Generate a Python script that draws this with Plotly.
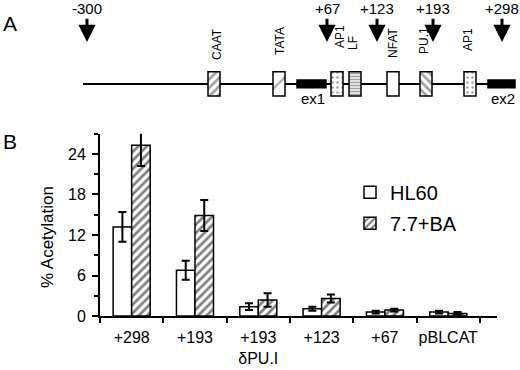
import plotly.graph_objects as go

# ---------------- Panel B data ----------------
categories = ["+298", "+193", "+193 δPU.I", "+123", "+67", "pBLCAT"]
tick_labels = ["+298", "+193", "+193<br>δPU.I", "+123", "+67", "pBLCAT"]
hl60 = [13.2, 6.8, 1.4, 1.1, 0.6, 0.6]
hl60_err = [2.2, 1.4, 0.5, 0.3, 0.2, 0.2]
ba = [25.3, 14.9, 2.4, 2.6, 0.9, 0.4]
ba_err = [3.1, 2.3, 1.0, 0.6, 0.2, 0.2]
y_ticks = [0, 6, 12, 18, 24]

# ---------------- Panel A data (schematic map units) ----------------
elements = ["CAAT", "TATA", "ex1", "AP1", "LF", "NFAT", "PU.1", "AP1", "ex2"]
elem_start = [208, 273, 297, 331, 349, 387, 420, 464, 488]
elem_end = [220, 285, 326, 343, 361, 399, 432, 476, 515]
elem_pattern = ["/", "/", "", ".", "-", "", "\\", ".", ""]
elem_fill = ["white", "white", "black", "white", "white", "white", "white", "white", "black"]
elem_height = [25, 25, 8, 25, 25, 25, 25, 25, 8]
elem_psize = [6, 16, 6, 5, 3, 6, 6, 5, 6]
elem_solid = [0.45, 0.12, 0.3, 0.2, 0.55, 0.3, 0.45, 0.2, 0.3]
site_labels = ["-300", "+67", "+123", "+193", "+298"]
site_pos = [87, 327, 377, 433, 502]
box_labels = ["CAAT", "TATA", "AP1", "LF", "NFAT", "PU.1", "AP1"]
box_label_x = [217, 280, 340, 353, 393, 424, 468]
box_label_y = [45, 42, 38, 44, 44, 42, 41]
exon_labels = ["ex1", "ex2"]
exon_label_x = [313, 503]

FONT = "Liberation Sans, Arial, sans-serif"
W, H = 520, 370

fig = go.Figure()

# Panel B bars
fig.add_trace(go.Bar(
    name="HL60", x=categories, y=hl60,
    marker=dict(color="white", line=dict(color="black", width=1.5)),
    error_y=dict(type="data", array=hl60_err, color="black", thickness=2, width=4),
    cliponaxis=False, legendgroup="a",
))
fig.add_trace(go.Bar(
    name="7.7+BA", x=categories, y=ba,
    marker=dict(color="white", line=dict(color="black", width=1.5),
                pattern=dict(shape="/", fgcolor="black", bgcolor="white", size=6, solidity=0.45)),
    error_y=dict(type="data", array=ba_err, color="black", thickness=2, width=4),
    cliponaxis=False, legendgroup="b",
))

# Panel A boxes
fig.add_trace(go.Bar(
    orientation="h", y=[86] * len(elements),
    x=[e - s for s, e in zip(elem_start, elem_end)], base=elem_start,
    width=elem_height,
    marker=dict(color=elem_fill, line=dict(color="black", width=1.5),
                pattern=dict(shape=elem_pattern, fgcolor="black", bgcolor=elem_fill,
                             size=elem_psize, solidity=elem_solid)),
    xaxis="x2", yaxis="y2", showlegend=False, hoverinfo="skip",
))

# baseline of the map
fig.add_shape(type="line", xref="x2", yref="y2", x0=83, x1=500, y0=86, y1=86,
              line=dict(color="black", width=2), layer="below")

ann = []
for lab, xp in zip(site_labels, site_pos):
    ann.append(dict(xref="x2", yref="y2", axref="x2", ayref="y2",
                    x=xp, y=43, ax=xp, ay=9, text=lab, showarrow=True,
                    arrowhead=2, arrowwidth=3, arrowsize=1.15, arrowcolor="black",
                    font=dict(size=15, family=FONT, color="black")))
for lab, xp, yp in zip(box_labels, box_label_x, box_label_y):
    ann.append(dict(xref="x2", yref="y2", x=xp, y=yp, text=lab, showarrow=False,
                    textangle=-90, font=dict(size=12, family=FONT, color="black")))
for lab, xp in zip(exon_labels, exon_label_x):
    ann.append(dict(xref="x2", yref="y2", x=xp, y=101, text=lab, showarrow=False,
                    font=dict(size=15, family=FONT, color="black")))
ann.append(dict(xref="paper", yref="paper", x=10 / W, y=1 - 24 / H, text="A", showarrow=False,
                xanchor="center", yanchor="middle",
                font=dict(size=21, family=FONT, color="black")))
ann.append(dict(xref="paper", yref="paper", x=10 / W, y=1 - 145 / H, text="B", showarrow=False,
                xanchor="center", yanchor="middle",
                font=dict(size=21, family=FONT, color="black")))
ann.append(dict(xref="paper", yref="paper", x=47 / W, y=1 - 243 / H, text="% Acetylation",
                xanchor="center", yanchor="middle",
                showarrow=False, textangle=-90, font=dict(size=17, family=FONT, color="black")))

fig.update_layout(
    width=W, height=H, margin=dict(l=0, r=0, t=0, b=0),
    paper_bgcolor="white", plot_bgcolor="white",
    font=dict(family=FONT, color="black"),
    barmode="group", bargap=0.415, bargroupgap=0,
    showlegend=True,
    legend=dict(x=350 / W, y=1 - 177 / H, xanchor="left", yanchor="top",
                font=dict(size=20, family=FONT, color="black"),
                bgcolor="rgba(0,0,0,0)", tracegroupgap=2),
    xaxis=dict(domain=[100 / W, 497 / W], anchor="y", type="category",
               range=[-0.5, 5.77], tickmode="array", tickvals=categories, ticktext=tick_labels,
               tickson="boundaries", ticks="outside", ticklen=5, tickwidth=2, tickcolor="black",
               tickangle=0, ticklabelstandoff=6,
               showline=True, linecolor="black", linewidth=2, showgrid=False,
               tickfont=dict(size=16, family=FONT, color="black")),
    yaxis=dict(domain=[1 - 324 / H, 1 - 137 / H], anchor="x",
               range=[0, 27], tickmode="array", tickvals=y_ticks,
               ticks="outside", ticklen=6, tickwidth=2, tickcolor="black",
               ticklabelstandoff=3,
               minor=dict(dtick=3, tick0=0, ticks="outside", ticklen=4, tickwidth=2, tickcolor="black"),
               showline=True, linecolor="black", linewidth=2, showgrid=False, zeroline=False,
               tickfont=dict(size=16, family=FONT, color="black")),
    xaxis2=dict(domain=[0, 1], anchor="y2", range=[0, W], visible=False, fixedrange=True),
    yaxis2=dict(domain=[1 - 125 / H, 1], anchor="x2", range=[125, 0], visible=False, fixedrange=True),
    annotations=ann,
)

fig.write_html("out.html", config={"displayModeBar": False},
               post_script="document.body.style.margin='0';")
